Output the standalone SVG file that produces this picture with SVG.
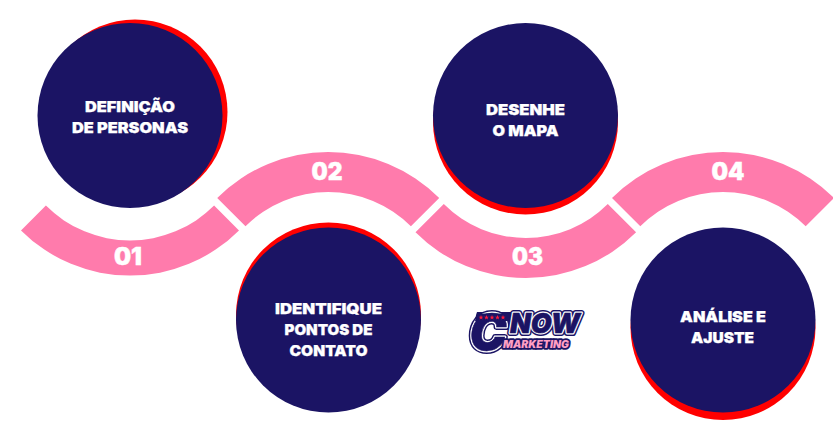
<svg xmlns="http://www.w3.org/2000/svg" width="833" height="445" viewBox="0 0 833 445">
<style>
.band{fill:#ff7bac}
.red{fill:#ff0000}
.navy{fill:#1b1464}
text{font-family:"Inter","Liberation Sans",sans-serif;fill:#fff;text-anchor:middle;font-weight:900}
.lab{font-size:15px;stroke:#fff;stroke-width:.25px}
.num{font-size:24px;stroke:#fff;stroke-width:.4px}
.logo{font-family:"Roboto","Liberation Sans",sans-serif;font-style:italic;font-weight:900;stroke-linejoin:round}
.o3{fill:none;stroke:#1b1464;stroke-width:6px}
.o2{fill:none;stroke:#fff;stroke-width:3px}
.o1{fill:#1b1464;stroke:#1b1464;stroke-width:.5px}
.mk{font-size:10px;fill:#ff9fc4;stroke:none}
.mko{font-size:10px;fill:none;stroke:#1b1464;stroke-width:3.5px}
</style>
<defs>
<polygon id="star" fill="#ff1a3c" points="0,-2.4 .7,-.8 2.4,-.8 1,.3 1.5,2 0,1 -1.5,2 -1,.3 -2.4,-.8 -.7,-.8"/>
</defs>
<rect width="833" height="445" fill="#fff"/>
<g id="connectors">
<path class="band" d="M21 230.4L45.9 205.6A119 119 0 0 0 214.1 205.6L239 230.4A154 154 0 0 1 21 230.4Z"/>
<path class="band" d="M217.2 198L245.5 226.3A117 117 0 0 1 410.9 226.3L439.2 198A157 157 0 0 0 217.2 198Z"/>
<path class="band" d="M415.5 232.3L443.8 204A116 116 0 0 0 607.8 204L636.1 232.3A156 156 0 0 1 415.5 232.3Z"/>
<path class="band" d="M612 198L640.3 226.3A117 117 0 0 1 805.7 226.3L834 198A157 157 0 0 0 612 198Z"/>
<text class="num" x="128" y="265" textLength="28" lengthAdjust="spacingAndGlyphs">01</text>
<text class="num" x="327" y="180" textLength="31" lengthAdjust="spacingAndGlyphs">02</text>
<text class="num" x="527.5" y="265" textLength="31" lengthAdjust="spacingAndGlyphs">03</text>
<text class="num" x="728" y="180" textLength="33" lengthAdjust="spacingAndGlyphs">04</text>
</g>
<g id="node-1">
<circle class="red" cx="135" cy="112" r="92.5"/>
<circle class="navy" cx="130" cy="115.5" r="92.5"/>
<text class="lab" x="130" y="112" textLength="90" lengthAdjust="spacingAndGlyphs">DEFINIÇÃO</text>
<text class="lab" x="130" y="132.5" textLength="116" lengthAdjust="spacingAndGlyphs">DE PERSONAS</text>
</g>
<g id="node-2">
<circle class="red" cx="328.5" cy="315" r="92.5"/>
<circle class="navy" cx="328.5" cy="320" r="92.5"/>
<text class="lab" x="328.5" y="314" textLength="107" lengthAdjust="spacingAndGlyphs">IDENTIFIQUE</text>
<text class="lab" x="328.5" y="335" textLength="88" lengthAdjust="spacingAndGlyphs">PONTOS DE</text>
<text class="lab" x="328.5" y="356" textLength="78" lengthAdjust="spacingAndGlyphs">CONTATO</text>
</g>
<g id="node-3">
<circle class="red" cx="525.5" cy="122" r="92.5"/>
<circle class="navy" cx="525.5" cy="115.5" r="92.5"/>
<text class="lab" x="525.5" y="115" textLength="79" lengthAdjust="spacingAndGlyphs">DESENHE</text>
<text class="lab" x="525.5" y="136" textLength="66" lengthAdjust="spacingAndGlyphs">O MAPA</text>
</g>
<g id="node-4">
<circle class="red" cx="723" cy="327.5" r="92.5"/>
<circle class="navy" cx="723" cy="320" r="92.5"/>
<text class="lab" x="723" y="322" textLength="86" lengthAdjust="spacingAndGlyphs">ANÁLISE E</text>
<text class="lab" x="722.5" y="343" textLength="63" lengthAdjust="spacingAndGlyphs">AJUSTE</text>
</g>
<g id="logo">
<polygon class="navy" points="477,312 513,312 510,322 474,322"/>
<g class="logo">
<text class="o3" x="488" y="349.5" font-size="50" textLength="37" lengthAdjust="spacingAndGlyphs">C</text>
<text class="o3" x="545" y="332.5" font-size="27" textLength="70" lengthAdjust="spacingAndGlyphs">NOW</text>
<text class="o2" x="488" y="349.5" font-size="50" textLength="37" lengthAdjust="spacingAndGlyphs">C</text>
<text class="o2" x="545" y="332.5" font-size="27" textLength="70" lengthAdjust="spacingAndGlyphs">NOW</text>
<text class="o1" x="488" y="349.5" font-size="50" textLength="37" lengthAdjust="spacingAndGlyphs">C</text>
<text class="o1" x="545" y="332.5" font-size="27" textLength="70" lengthAdjust="spacingAndGlyphs">NOW</text>
<text class="mko" x="536" y="348" textLength="66" lengthAdjust="spacingAndGlyphs">MARKETING</text>
<text class="mk" x="536" y="348" textLength="66" lengthAdjust="spacingAndGlyphs">MARKETING</text>
</g>
<polygon class="navy" points="477,313.5 511,313.5 509,321 475,321"/>
<use href="#star" x="481" y="317.5"/>
<use href="#star" x="486.5" y="317.5"/>
<use href="#star" x="492" y="317.5"/>
<use href="#star" x="497.5" y="317.5"/>
<use href="#star" x="503" y="317.5"/>
</g>
</svg>
